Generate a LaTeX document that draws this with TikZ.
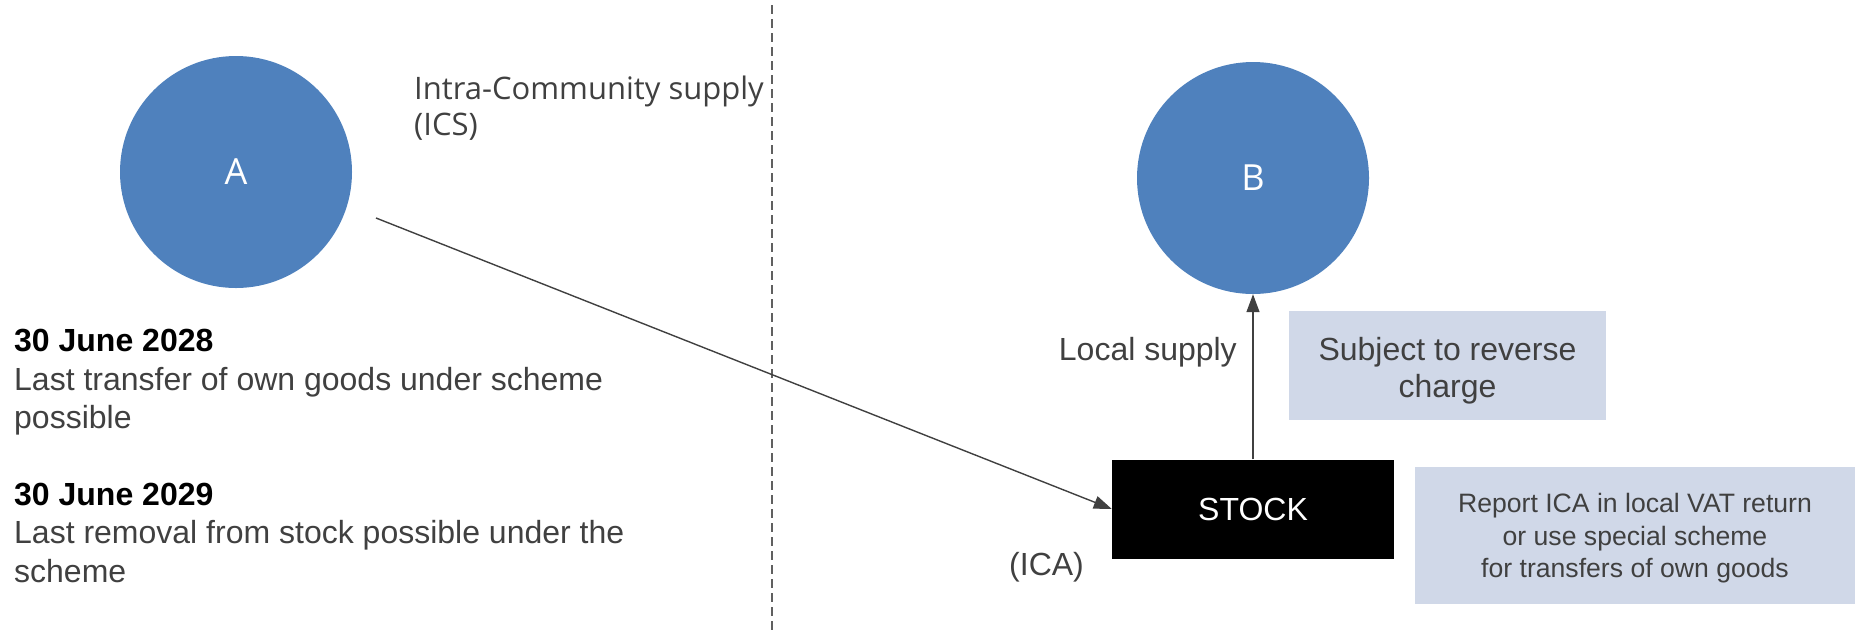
\documentclass[tikz,border=0pt]{standalone}
\usepackage{fontspec}
\setmainfont{Liberation Sans}
\newfontfamily\labelfont{Open Sans}
\usetikzlibrary{arrows.meta}
\definecolor{circblue}{RGB}{79,129,189}
\definecolor{notefill}{RGB}{208,216,232}
\definecolor{txtgray}{RGB}{64,64,64}
\definecolor{linegray}{RGB}{64,64,64}
\definecolor{dashgray}{RGB}{96,96,96}

\begin{document}
\begin{tikzpicture}[x=1pt,y=-1pt,
  country/.style={circle, fill=circblue, minimum size=232pt, inner sep=0pt,
    text=white, font=\labelfont\fontsize{36}{36}\selectfont},
  note/.style={fill=notefill, inner sep=0pt},
  notetext/.style={inner sep=0pt, align=center, text=txtgray},
  flow/.style={draw=linegray, line width=1.4pt, -{Triangle[length=18pt,width=13pt]}},
  plain/.style={inner sep=0pt, text=txtgray, font=\fontsize{32}{38.5}\selectfont},
]
\useasboundingbox (0,0) rectangle (1855,630);

% border between the two member states
\draw[dashgray, line width=1.5pt, dash pattern=on 9pt off 5pt] (772,5) -- (772,630);

% parties
\node[country] (A) at (236,172) {A};
\node[country] (B) at (1253,178) {B};

% call-off stock
\node[fill=black, minimum width=282pt, minimum height=99pt, inner sep=0pt,
  text=white, font=\fontsize{32}{32}\selectfont] (stock) at (1253,509) {STOCK};

% notes: shaded box, text set slightly below its centre
\node[note, minimum width=317pt, minimum height=109pt] (rc) at (1447.5,365.5) {};
\node[notetext, font=\fontsize{32}{37}\selectfont] (rctext) at ([yshift=-5pt]rc.center)
  {Subject to reverse\\charge};
\node[note, minimum width=440pt, minimum height=137pt] (report) at (1635,535.5) {};
\node[notetext, font=\fontsize{26.6}{32.5}\selectfont] (reporttext) at ([yshift=-3pt]report.center)
  {Report ICA in local VAT return\\or use special scheme\\for transfers of own goods};

% labels (base anchor = baseline of the last line)
\node[anchor=base west, align=left, inner sep=0pt, text=txtgray,
  font=\labelfont\fontsize{31}{36}\selectfont] (ics) at (414,135)
  {Intra-Community supply\\(ICS)};
\node[plain, anchor=base east] (local) at (1237,360) {Local supply};
\node[plain, anchor=base west] (ica) at (1009,575) {(ICA)};

% deadlines
\node[plain, anchor=base west, align=left] (d1) at (14,428.5)
  {\textcolor{black}{\bfseries 30 June 2028}\\Last transfer of own goods under scheme\\possible};
\node[plain, anchor=base west, align=left] (d2) at (14,582)
  {\textcolor{black}{\bfseries 30 June 2029}\\Last removal from stock possible under the\\scheme};

% flows
\coordinate (icsstart) at (376,218);
\draw[flow] (icsstart) -- (stock.west);
\draw[flow] (stock.north) -- (B.south);
\end{tikzpicture}
\end{document}
